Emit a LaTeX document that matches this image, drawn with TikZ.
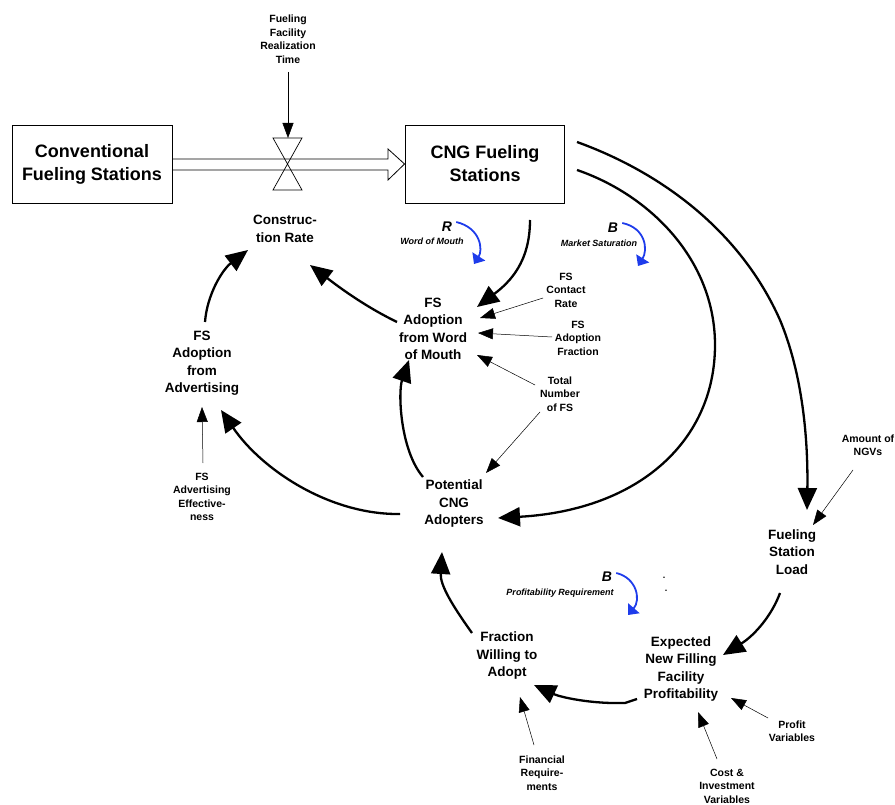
\documentclass[tikz,border=0pt]{standalone}
\usepackage{fontspec}
\setmainfont{Liberation Sans}
\usetikzlibrary{arrows.meta}
\definecolor{loopblue}{RGB}{30,60,235}
\begin{document}
\begin{tikzpicture}[x=1pt,y=-1pt,
  big/.style={font=\bfseries\fontsize{18}{23}\selectfont,align=center,inner sep=0pt},
  stockbox/.style={draw,line width=0.9pt,minimum width=160pt,minimum height=78pt},
  var/.style={font=\bfseries\fontsize{13.5}{17.5}\selectfont,align=center,inner sep=0pt},
  small/.style={font=\bfseries\fontsize{10.5}{13.5}\selectfont,align=center,inner sep=0pt},
  thickarrow/.style={line width=2.3pt,-{Triangle[length=22pt,width=19pt]}},
  thinarrow/.style={line width=0.5pt,-{Triangle[length=15pt,width=11pt]}},
  loopname/.style={font=\bfseries\itshape\fontsize{9}{11}\selectfont,inner sep=0pt},
  looplet/.style={font=\bfseries\itshape\fontsize{14}{16}\selectfont,inner sep=0pt},
  looparrow/.style={loopblue,line width=1.8pt,-{Triangle[length=9pt,width=15pt]}},
]
\useasboundingbox (0,0) rectangle (895,805);

% stocks
\node[stockbox] (conv) at (92,164) {};
\node[big] (convt) at (92,164) {Conventional\\Fueling Stations};
\node[stockbox,minimum width=159pt] (cng) at (484.5,164) {};
\node[big] (cngt) at (485,164) {CNG Fueling\\Stations};

% pipe with hollow arrow head
\draw[line width=0.8pt] (conv.east |- 0,159) -- (388,159) -- (388,149) -- (cng.west) -- (388,180) -- (388,170) -- (conv.east |- 0,170);
% valve
\coordinate (valve) at (288,138);
\draw[line width=0.7pt] (273,138) -- (302,138) -- (273,190) -- (302,190) -- cycle;

% variables
\node[small] (frt) at (288,39) {Fueling\\Facility\\Realization\\Time};
\node[var] (cr) at (285,229) {Construc-\\tion Rate};
\node[var] (wom) at (433,329) {FS\\Adoption\\from Word\\of Mouth};
\node[var] (adv) at (202,363) {FS\\Adoption\\from\\Advertising};
\node[small] (adveff) at (202,497) {FS\\Advertising\\Effective-\\ness};
\node[small] (contact) at (566,290) {FS\\Contact\\Rate};
\node[small] (afrac) at (578,338) {FS\\Adoption\\Fraction};
\node[small] (total) at (560,394) {Total\\Number\\of FS};
\node[var] (pot) at (454,504) {Potential\\CNG\\Adopters};
\node[var] (fwa) at (507,656) {Fraction\\Willing to\\Adopt};
\node[small] (fin) at (542,773) {Financial\\Require-\\ments};
\node[var] (exp) at (681,669) {Expected\\New Filling\\Facility\\Profitability};
\node[var] (load) at (792,552) {Fueling\\Station\\Load};
\node[small] (ngv) at (868,445) {Amount of\\NGVs};
\node[small] (pvar) at (792,731) {Profit\\Variables};
\node[small] (cost) at (727,786) {Cost \&\\Investment\\Variables};

% loop labels
\node[looplet] (rl) at (447,227) {R};
\node[loopname] (rn) at (432,241) {Word of Mouth};
\node[looplet] (bl1) at (613,228) {B};
\node[loopname] (bn1) at (599,243) {Market Saturation};
\node[looplet] (bl2) at (607,577) {B};
\node[loopname] (bn2) at (560,593) {Profitability Requirement};
\node[inner sep=0pt,font=\bfseries\fontsize{9}{9}\selectfont] (dot1) at (664,578) {.};
\node[inner sep=0pt,font=\bfseries\fontsize{9}{9}\selectfont] (dot2) at (666,591) {.};

\draw[looparrow] (rl.east) ++(4,-5) .. controls (481,228) and (483,250) .. (474,264);
\draw[looparrow] (bl1.east) ++(4,-5) .. controls (646,228) and (648,250) .. (638,266);
\draw[looparrow] (bl2.east) ++(4,-4) .. controls (637,578) and (641,600) .. (628,615);

% connector end points
\coordinate (frt-s) at (288,72);
\coordinate (cng-b) at (530,220);
\coordinate (wom-a) at (477,307);
\coordinate (wom-l) at (397,322);
\coordinate (cr-r) at (310,265);
\coordinate (adv-t) at (205,322);
\coordinate (cr-l) at (248,250);
\coordinate (pot-t) at (423,477);
\coordinate (wom-b) at (409,360);
\coordinate (pot-l) at (400,514);
\coordinate (adv-b) at (221,410);
\coordinate (cng-r2) at (577,170);
\coordinate (pot-r) at (498,518);
\coordinate (cng-r1) at (577,142);
\coordinate (load-t) at (807,510);
\coordinate (fwa-t) at (472,633);
\coordinate (pot-b) at (442,552);
\coordinate (exp-l) at (637,699);
\coordinate (fwa-r) at (534,685);
\coordinate (load-b) at (780,593);
\coordinate (exp-r) at (723,655);

% thick causal links
\draw[thickarrow] (cng-b) .. controls (530,262) and (510,282) .. (wom-a);
\draw[thickarrow] (wom-l) .. controls (362,305) and (335,284) .. (cr-r);
\draw[thickarrow] (adv-t) .. controls (207,295) and (222,270) .. (cr-l);
\draw[thickarrow] (pot-t) .. controls (400,450) and (398,392) .. (wom-b);
\draw[thickarrow] (pot-l) .. controls (330,515) and (262,470) .. (adv-b);
\draw[thickarrow] (cng-r2) .. controls (650,195) and (715,260) .. (715,345) .. controls (715,440) and (640,510) .. (pot-r);
\draw[thickarrow] (cng-r1) .. controls (660,172) and (740,230) .. (780,320) .. controls (805,380) and (808,450) .. (load-t);
\draw[thickarrow] (fwa-t) .. controls (452,605) and (440,585) .. (pot-b);
\draw[thickarrow] (exp-l) -- (625,703) .. controls (590,704) and (560,697) .. (fwa-r);
\draw[thickarrow] (load-b) .. controls (772,615) and (755,635) .. (exp-r);

% thin information links
\draw[thinarrow] (frt-s) -- (valve);
\draw[thinarrow] (543,298) -- (480,318);
\draw[thinarrow] (552,337) -- (478,333);
\draw[thinarrow] (535,385) -- (477,355);
\draw[thinarrow] (540,412) -- (486,473);
\draw[thinarrow] (203,463) -- (202,407);
\draw[thinarrow] (534,745) -- (520,697);
\draw[thinarrow] (768,718) -- (731,698);
\draw[thinarrow] (717,759) -- (698,712);
\draw[thinarrow] (853,470) -- (813,525);
\end{tikzpicture}
\end{document}
